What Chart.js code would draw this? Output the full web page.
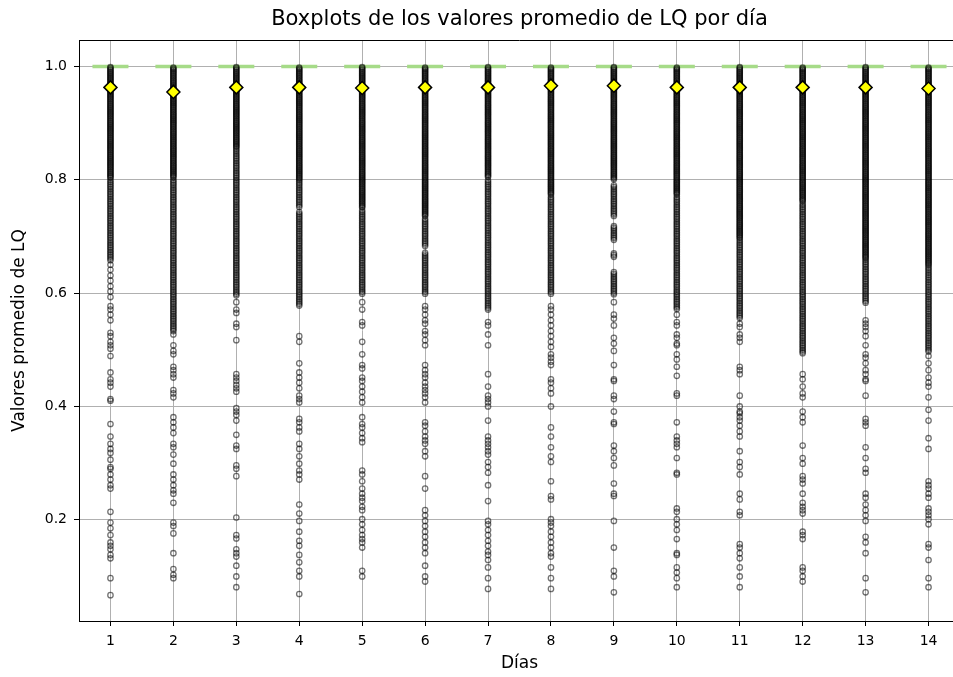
<!DOCTYPE html>
<html>
<head>
<meta charset="utf-8">
<script src="https://cdn.jsdelivr.net/npm/chart.js@4"></script>
<style>
  html, body { margin: 0; padding: 0; background: #fff; overflow: hidden; }
  #wrap { width: 953px; height: 677px; overflow: hidden; }
</style>
</head>
<body>
<div id="wrap"><canvas id="boxChart" width="962" height="677"></canvas></div>
<script>
const days = [1, 2, 3, 4, 5, 6, 7, 8, 9, 10, 11, 12, 13, 14];
const medians = [1, 1, 1, 1, 1, 1, 1, 1, 1, 1, 1, 1, 1, 1];
const means = [0.963, 0.955, 0.963, 0.963, 0.962, 0.963, 0.963, 0.966, 0.966, 0.963, 0.963, 0.963, 0.963, 0.961];
const yTicks = [0.2, 0.4, 0.6, 0.8, 1.0];

// outliers, one list per day (the top band is solid, so it is packed tight)
const lqDay1 = [
  0.999,0.997,0.995,0.993,0.991,0.989,0.987,0.985,0.983,0.981,
  0.979,0.977,0.975,0.973,0.971,0.969,0.967,0.965,0.963,0.961,
  0.959,0.957,0.955,0.953,0.951,0.949,0.947,0.945,0.943,0.941,
  0.939,0.937,0.935,0.933,0.931,0.929,0.927,0.925,0.923,0.921,
  0.919,0.917,0.915,0.913,0.911,0.909,0.907,0.905,0.903,0.901,
  0.899,0.897,0.895,0.893,0.891,0.889,0.887,0.885,0.883,0.881,
  0.879,0.877,0.875,0.873,0.871,0.869,0.867,0.865,0.863,0.861,
  0.859,0.857,0.855,0.853,0.851,0.849,0.847,0.845,0.843,0.841,
  0.839,0.837,0.835,0.833,0.831,0.829,0.827,0.825,0.823,0.821,
  0.819,0.817,0.815,0.813,0.811,0.809,0.807,0.805,0.803,
  0.799,0.796,0.793,0.790,0.787,0.784,0.781,0.778,0.775,0.772,
  0.769,0.766,0.763,0.760,0.757,0.754,0.751,0.748,0.745,0.742,
  0.739,0.736,0.733,0.730,0.727,0.724,0.721,0.718,0.715,0.712,
  0.709,0.706,0.703,0.700,0.697,0.694,0.691,0.688,0.685,0.682,
  0.679,0.676,0.673,0.670,0.667,0.664,0.661,0.658,
  0.650,0.641,0.631,0.622,0.612,0.603,0.593,0.577,0.571,0.562,0.552,0.530,0.524,0.514,0.508,0.502,0.489,0.460,0.448,0.442,0.435,0.413,0.410,0.369,0.347,0.334,0.325,0.318,0.306,0.293,0.290,0.280,0.271,0.261,0.255,0.214,0.195,0.185,0.173,0.160,0.154,0.148,0.138,0.132,0.097,0.067];
const lqDay2 = [
  0.998,0.996,0.994,0.992,0.990,0.988,0.986,0.984,0.982,0.980,
  0.978,0.976,0.974,0.972,0.970,0.968,0.966,0.964,0.962,0.960,
  0.958,0.956,0.954,0.952,0.950,0.948,0.946,0.944,0.942,0.940,
  0.938,0.936,0.934,0.932,0.930,0.928,0.926,0.924,0.922,0.920,
  0.918,0.916,0.914,0.912,0.910,0.908,0.906,0.904,0.902,0.900,
  0.898,0.896,0.894,0.892,0.890,0.888,0.886,0.884,0.882,0.880,
  0.878,0.876,0.874,0.872,0.870,0.868,0.866,0.864,0.862,0.860,
  0.858,0.856,0.854,0.852,0.850,0.848,0.846,0.844,0.842,0.840,
  0.838,0.836,0.834,0.832,0.830,0.828,0.826,0.824,0.822,0.820,
  0.818,0.816,0.814,0.812,0.810,0.808,0.806,0.804,
  0.800,0.797,0.794,0.791,0.788,0.785,0.782,0.779,0.776,0.773,
  0.770,0.767,0.764,0.761,0.758,0.755,0.752,0.749,0.746,0.743,
  0.740,0.737,0.734,0.731,0.728,0.725,0.722,0.719,0.716,0.713,
  0.710,0.707,0.704,0.701,0.698,0.695,0.692,0.689,0.686,0.683,
  0.680,0.677,0.674,0.671,0.668,0.665,0.662,0.659,0.656,0.653,
  0.650,0.647,0.644,0.641,0.638,0.635,0.632,0.629,0.626,0.623,
  0.620,0.617,0.614,0.611,0.608,0.605,0.602,0.599,0.596,0.593,
  0.590,0.587,0.584,0.581,0.578,0.575,0.572,0.569,0.566,0.563,
  0.560,0.557,0.554,0.551,0.548,0.545,0.542,0.539,0.536,0.533,
  0.527,0.508,0.498,0.492,0.470,0.464,0.457,0.451,0.429,0.423,0.416,0.381,0.372,0.363,0.353,0.334,0.328,0.315,0.299,0.280,0.271,0.261,0.252,0.246,0.230,0.195,0.189,0.176,0.141,0.113,0.103,0.097];
const lqDay3 = [
  0.999,0.997,0.995,0.993,0.991,0.989,0.987,0.985,0.983,0.981,
  0.979,0.977,0.975,0.973,0.971,0.969,0.967,0.965,0.963,0.961,
  0.959,0.957,0.955,0.953,0.951,0.949,0.947,0.945,0.943,0.941,
  0.939,0.937,0.935,0.933,0.931,0.929,0.927,0.925,0.923,0.921,
  0.919,0.917,0.915,0.913,0.911,0.909,0.907,0.905,0.903,0.901,
  0.899,0.897,0.895,0.893,0.891,0.889,0.887,0.885,0.883,0.881,
  0.879,0.877,0.875,0.873,0.871,0.869,0.867,0.865,0.863,0.861,0.859,
  0.857,0.854,0.851,0.848,0.845,0.842,0.839,0.836,0.833,0.830,
  0.827,0.824,0.821,0.818,0.815,0.812,0.809,0.806,0.803,
  0.800,0.797,0.794,0.791,0.788,0.785,0.782,0.779,0.776,0.773,
  0.770,0.767,0.764,0.761,0.758,0.755,0.752,0.749,0.746,0.743,
  0.740,0.737,0.734,0.731,0.728,0.725,0.722,0.719,0.716,0.713,
  0.710,0.707,0.704,0.701,0.698,0.695,0.692,0.689,0.686,0.683,
  0.680,0.677,0.674,0.671,0.668,0.665,0.662,0.659,0.656,0.653,
  0.650,0.647,0.644,0.641,0.638,0.635,0.632,0.629,0.626,0.623,
  0.620,0.617,0.614,0.611,0.608,0.605,0.602,0.599,0.596,
  0.584,0.571,0.565,0.546,0.540,0.517,0.457,0.451,0.445,0.438,0.432,0.426,0.397,0.391,0.385,0.375,0.350,0.331,0.325,0.296,0.290,0.277,0.204,0.173,0.167,0.148,0.141,0.135,0.119,0.100,0.081];
const lqDay4 = [
  0.998,0.996,0.994,0.992,0.990,0.988,0.986,0.984,0.982,0.980,
  0.978,0.976,0.974,0.972,0.970,0.968,0.966,0.964,0.962,0.960,
  0.958,0.956,0.954,0.952,0.950,0.948,0.946,0.944,0.942,0.940,
  0.938,0.936,0.934,0.932,0.930,0.928,0.926,0.924,0.922,0.920,
  0.918,0.916,0.914,0.912,0.910,0.908,0.906,0.904,0.902,0.900,
  0.898,0.896,0.894,0.892,0.890,0.888,0.886,0.884,0.882,0.880,
  0.878,0.876,0.874,0.872,0.870,0.868,0.866,0.864,0.862,0.860,
  0.858,0.856,0.854,0.852,0.850,0.848,0.846,0.844,0.842,0.840,
  0.838,0.836,0.834,0.832,0.830,0.828,0.826,0.824,0.822,0.820,
  0.818,0.816,0.814,0.812,0.810,0.808,0.806,0.804,0.802,0.800,
  0.797,0.794,0.791,0.788,0.785,0.782,0.779,0.776,0.773,
  0.770,0.767,0.764,0.761,0.758,0.755,0.752,0.743,
  0.740,0.737,0.734,0.731,0.728,0.725,0.722,0.719,0.716,0.713,
  0.710,0.707,0.704,0.701,0.698,0.695,0.692,0.689,0.686,0.683,
  0.680,0.677,0.674,0.671,0.668,0.665,0.662,0.659,0.656,0.653,
  0.650,0.647,0.644,0.641,0.638,0.635,0.632,0.629,0.626,0.623,
  0.620,0.617,0.614,0.611,0.608,0.605,0.602,0.599,0.596,0.593,
  0.590,0.587,0.584,0.581,0.578,
  0.524,0.514,0.476,0.460,0.451,0.442,0.432,0.419,0.413,0.407,0.378,0.372,0.363,0.356,0.334,0.325,0.312,0.299,0.287,0.280,0.271,0.227,0.211,0.198,0.179,0.163,0.154,0.138,0.125,0.110,0.100,0.069];
const lqDay5 = [
  0.999,0.997,0.995,0.993,0.991,0.989,0.987,0.985,0.983,0.981,
  0.979,0.977,0.975,0.973,0.971,0.969,0.967,0.965,0.963,0.961,
  0.959,0.957,0.955,0.953,0.951,0.949,0.947,0.945,0.943,0.941,
  0.939,0.937,0.935,0.933,0.931,0.929,0.927,0.925,0.923,0.921,
  0.919,0.917,0.915,0.913,0.911,0.909,0.907,0.905,0.903,0.901,
  0.899,0.897,0.895,0.893,0.891,0.889,0.887,0.885,0.883,0.881,
  0.879,0.877,0.875,0.873,0.871,0.869,0.867,0.865,0.863,0.861,
  0.859,0.857,0.855,0.853,0.851,0.849,0.847,0.845,0.843,0.841,
  0.839,0.837,0.835,0.833,0.831,0.829,0.827,0.825,0.823,0.821,
  0.819,0.817,0.815,0.813,0.811,0.809,0.807,0.805,0.803,0.801,
  0.799,0.797,0.795,0.793,0.791,0.789,0.787,0.785,0.783,0.781,
  0.779,0.777,0.775,0.773,0.771,0.769,0.767,0.765,0.763,0.761,
  0.759,0.757,0.755,0.753,0.751,
  0.746,0.743,0.740,0.737,0.734,0.731,0.728,0.725,0.722,0.719,
  0.716,0.713,0.710,0.707,0.704,0.701,0.698,0.695,0.692,0.689,
  0.686,0.683,0.680,0.677,0.674,0.671,0.668,0.665,0.662,0.659,
  0.656,0.653,0.650,0.647,0.644,0.641,0.638,0.635,0.632,0.629,
  0.626,0.623,0.620,0.617,0.614,0.611,0.608,0.605,0.602,0.599,
  0.584,0.571,0.549,0.543,0.514,0.492,0.473,0.467,0.451,0.445,0.435,0.426,0.416,0.407,0.381,0.369,0.363,0.353,0.344,0.337,0.287,0.280,0.268,0.255,0.246,0.239,0.233,0.223,0.217,0.201,0.192,0.182,0.173,0.166,0.160,0.151,0.110,0.100];
const lqDay6 = [
  0.998,0.996,0.994,0.992,0.990,0.988,0.986,0.984,0.982,0.980,
  0.978,0.976,0.974,0.972,0.970,0.968,0.966,0.964,0.962,0.960,
  0.958,0.956,0.954,0.952,0.950,0.948,0.946,0.944,0.942,0.940,
  0.938,0.936,0.934,0.932,0.930,0.928,0.926,0.924,0.922,0.920,
  0.918,0.916,0.914,0.912,0.910,0.908,0.906,0.904,0.902,0.900,
  0.898,0.896,0.894,0.892,0.890,0.888,0.886,0.884,0.882,0.880,
  0.878,0.876,0.874,0.872,0.870,0.868,0.866,0.864,0.862,0.860,
  0.858,0.856,0.854,0.852,0.850,0.848,0.846,0.844,0.842,0.840,
  0.838,0.836,0.834,0.832,0.830,0.828,0.826,0.824,0.822,0.820,
  0.818,0.816,0.814,0.812,0.810,0.808,0.806,0.804,0.802,0.800,
  0.798,0.796,0.794,0.792,0.790,0.788,0.786,0.784,0.782,0.780,
  0.778,0.776,0.774,0.772,0.770,0.768,0.766,0.764,0.762,0.760,
  0.758,0.756,0.754,0.752,0.750,0.748,0.746,0.744,0.742,0.740,0.738,0.736,
  0.731,0.728,0.725,0.722,0.719,0.716,0.713,
  0.710,0.707,0.704,0.701,0.698,0.695,0.692,0.689,0.686,0.683,
  0.671,0.668,0.665,0.662,0.659,0.656,0.653,
  0.650,0.647,0.644,0.641,0.638,0.635,0.632,0.629,0.626,0.623,
  0.620,0.617,0.614,0.611,0.608,0.605,0.602,0.599,
  0.577,0.571,0.562,0.552,0.546,0.533,0.527,0.517,0.508,0.473,0.464,0.457,0.451,0.442,0.435,0.429,0.423,0.416,0.407,0.372,0.366,0.356,0.347,0.340,0.334,0.321,0.312,0.277,0.255,0.217,0.208,0.198,0.189,0.179,0.170,0.160,0.151,0.141,0.119,0.100,0.091];
const lqDay7 = [
  0.999,0.997,0.995,0.993,0.991,0.989,0.987,0.985,0.983,0.981,
  0.979,0.977,0.975,0.973,0.971,0.969,0.967,0.965,0.963,0.961,
  0.959,0.957,0.955,0.953,0.951,0.949,0.947,0.945,0.943,0.941,
  0.939,0.937,0.935,0.933,0.931,0.929,0.927,0.925,0.923,0.921,
  0.919,0.917,0.915,0.913,0.911,0.909,0.907,0.905,0.903,0.901,
  0.899,0.897,0.895,0.893,0.891,0.889,0.887,0.885,0.883,0.881,
  0.879,0.877,0.875,0.873,0.871,0.869,0.867,0.865,0.863,0.861,
  0.859,0.857,0.855,0.853,0.851,0.849,0.847,0.845,0.843,0.841,
  0.839,0.837,0.835,0.833,0.831,0.829,0.827,0.825,0.823,0.821,
  0.819,0.817,0.815,0.813,0.811,0.809,0.807,0.805,
  0.799,0.796,0.793,0.790,0.787,0.784,0.781,0.778,0.775,0.772,
  0.769,0.766,0.763,0.760,0.757,0.754,0.751,0.748,0.745,0.742,
  0.739,0.736,0.733,0.730,0.727,0.724,0.721,0.718,0.715,0.712,
  0.709,0.706,0.703,0.700,0.697,0.694,0.691,0.688,0.685,0.682,
  0.679,0.676,0.673,0.670,0.667,0.664,0.661,0.658,0.655,0.652,
  0.649,0.646,0.643,0.640,0.637,0.634,0.631,0.628,0.625,0.622,
  0.619,0.616,0.613,0.610,0.607,0.604,0.601,0.598,0.595,0.592,
  0.589,0.586,0.583,0.580,0.577,0.574,0.571,
  0.549,0.543,0.527,0.508,0.457,0.435,0.419,0.413,0.407,0.400,0.375,0.347,0.340,0.334,0.328,0.321,0.315,0.302,0.293,0.283,0.261,0.233,0.198,0.192,0.182,0.173,0.163,0.154,0.144,0.138,0.129,0.116,0.097,0.078];
const lqDay8 = [
  0.998,0.996,0.994,0.992,0.990,0.988,0.986,0.984,0.982,0.980,
  0.978,0.976,0.974,0.972,0.970,0.968,0.966,0.964,0.962,0.960,
  0.958,0.956,0.954,0.952,0.950,0.948,0.946,0.944,0.942,0.940,
  0.938,0.936,0.934,0.932,0.930,0.928,0.926,0.924,0.922,0.920,
  0.918,0.916,0.914,0.912,0.910,0.908,0.906,0.904,0.902,0.900,
  0.898,0.896,0.894,0.892,0.890,0.888,0.886,0.884,0.882,0.880,
  0.878,0.876,0.874,0.872,0.870,0.868,0.866,0.864,0.862,0.860,
  0.858,0.856,0.854,0.852,0.850,0.848,0.846,0.844,0.842,0.840,
  0.838,0.836,0.834,0.832,0.830,0.828,0.826,0.824,0.822,0.820,
  0.818,0.816,0.814,0.812,0.810,0.808,0.806,0.804,0.802,0.800,
  0.798,0.796,0.794,0.792,0.790,0.788,0.786,0.784,0.782,0.780,
  0.778,0.776,0.774,
  0.770,0.767,0.764,0.761,0.758,0.755,0.752,0.749,0.746,0.743,
  0.740,0.737,0.734,0.731,0.728,0.725,0.722,0.719,0.716,0.713,
  0.710,0.707,0.704,0.701,0.698,0.695,0.692,0.689,0.686,0.683,
  0.680,0.677,0.674,0.671,0.668,0.665,0.662,0.659,0.656,0.653,
  0.650,0.647,0.644,0.641,0.638,0.635,0.632,0.629,0.626,0.623,
  0.620,0.617,0.614,0.611,0.608,0.605,0.602,0.599,
  0.577,0.571,0.562,0.552,0.543,0.533,0.524,0.514,0.505,0.492,0.486,0.479,0.473,0.448,0.442,0.432,0.423,0.400,0.363,0.347,0.328,0.312,0.302,0.268,0.242,0.236,0.201,0.195,0.189,0.179,0.170,0.160,0.151,0.141,0.135,0.116,0.097,0.078];
const lqDay9 = [
  0.999,0.997,0.995,0.993,0.991,0.989,0.987,0.985,0.983,0.981,
  0.979,0.977,0.975,0.973,0.971,0.969,0.967,0.965,0.963,0.961,
  0.959,0.957,0.955,0.953,0.951,0.949,0.947,0.945,0.943,0.941,
  0.939,0.937,0.935,0.933,0.931,0.929,0.927,0.925,0.923,0.921,
  0.919,0.917,0.915,0.913,0.911,0.909,0.907,0.905,0.903,0.901,
  0.899,0.897,0.895,0.893,0.891,0.889,0.887,0.885,0.883,0.881,
  0.879,0.877,0.875,0.873,0.871,0.869,0.867,0.865,0.863,0.861,
  0.859,0.857,0.855,0.853,0.851,0.849,0.847,0.845,0.843,0.841,
  0.839,0.837,0.835,0.833,0.831,0.829,0.827,0.825,0.823,0.821,
  0.819,0.817,0.815,0.813,0.811,0.809,0.807,0.805,0.803,0.801,
  0.790,0.787,0.784,0.781,0.778,0.775,0.772,0.769,0.766,0.763,
  0.760,0.757,0.754,0.751,0.748,0.745,0.742,0.739,0.736,
  0.718,0.715,0.712,0.709,0.706,0.703,0.700,0.697,0.694,
  0.670,0.667,0.664,
  0.637,0.634,0.631,0.628,0.625,0.622,0.619,0.616,0.613,0.610,0.607,0.604,0.601,0.598,
  0.584,0.562,0.555,0.543,0.521,0.511,0.498,0.473,0.448,0.445,0.419,0.413,0.391,0.372,0.369,0.331,0.321,0.309,0.296,0.264,0.246,0.242,0.198,0.151,0.110,0.100,0.072];
const lqDay10 = [
  0.998,0.996,0.994,0.992,0.990,0.988,0.986,0.984,0.982,0.980,
  0.978,0.976,0.974,0.972,0.970,0.968,0.966,0.964,0.962,0.960,
  0.958,0.956,0.954,0.952,0.950,0.948,0.946,0.944,0.942,0.940,
  0.938,0.936,0.934,0.932,0.930,0.928,0.926,0.924,0.922,0.920,
  0.918,0.916,0.914,0.912,0.910,0.908,0.906,0.904,0.902,0.900,
  0.898,0.896,0.894,0.892,0.890,0.888,0.886,0.884,0.882,0.880,
  0.878,0.876,0.874,0.872,0.870,0.868,0.866,0.864,0.862,0.860,
  0.858,0.856,0.854,0.852,0.850,0.848,0.846,0.844,0.842,0.840,
  0.838,0.836,0.834,0.832,0.830,0.828,0.826,0.824,0.822,0.820,
  0.818,0.816,0.814,0.812,0.810,0.808,0.806,0.804,0.802,0.800,
  0.798,0.796,0.794,0.792,0.790,0.788,0.786,0.784,0.782,0.780,
  0.778,0.776,0.774,
  0.770,0.767,0.764,0.761,0.758,0.755,0.752,0.749,0.746,0.743,
  0.740,0.737,0.734,0.731,0.728,0.725,0.722,0.719,0.716,0.713,
  0.710,0.707,0.704,0.701,0.698,0.695,0.692,0.689,0.686,0.683,
  0.680,0.677,0.674,0.671,0.668,0.665,0.662,0.659,0.656,0.653,
  0.650,0.647,0.644,0.641,0.638,0.635,0.632,0.629,0.626,0.623,
  0.620,0.617,0.614,0.611,0.608,0.605,0.602,0.599,0.596,0.593,
  0.590,0.587,0.584,0.581,0.578,0.575,0.572,
  0.562,0.549,0.543,0.527,0.521,0.511,0.508,0.492,0.483,0.470,0.454,0.423,0.419,0.372,0.347,0.340,0.334,0.328,0.309,0.283,0.280,0.220,0.214,0.201,0.192,0.182,0.166,0.141,0.138,0.116,0.107,0.097,0.081];
const lqDay11 = [
  0.999,0.997,0.995,0.993,0.991,0.989,0.987,0.985,0.983,0.981,
  0.979,0.977,0.975,0.973,0.971,0.969,0.967,0.965,0.963,0.961,
  0.959,0.957,0.955,0.953,0.951,0.949,0.947,0.945,0.943,0.941,
  0.939,0.937,0.935,0.933,0.931,0.929,0.927,0.925,0.923,0.921,
  0.919,0.917,0.915,0.913,0.911,0.909,0.907,0.905,0.903,0.901,
  0.899,0.897,0.895,0.893,0.891,0.889,0.887,0.885,0.883,0.881,
  0.879,0.877,0.875,0.873,0.871,0.869,0.867,0.865,0.863,0.861,
  0.859,0.857,0.855,0.853,0.851,0.849,0.847,0.845,0.843,0.841,
  0.839,0.837,0.835,0.833,0.831,0.829,0.827,0.825,0.823,0.821,
  0.819,0.817,0.815,0.813,0.811,0.809,0.807,0.805,0.803,0.801,
  0.799,0.797,0.795,0.793,0.791,0.789,0.787,0.785,0.783,0.781,
  0.779,0.777,0.775,0.773,0.771,0.769,0.767,0.765,0.763,0.761,
  0.759,0.757,0.755,0.753,0.751,0.749,0.747,0.745,0.743,0.741,
  0.739,0.737,0.735,0.733,0.731,0.729,0.727,0.725,0.723,0.721,
  0.719,0.717,0.715,0.713,0.711,0.709,0.707,0.705,0.703,0.701,0.699,
  0.697,0.694,0.691,0.688,0.685,0.682,
  0.679,0.676,0.673,0.670,0.667,0.664,0.661,0.658,0.655,0.652,
  0.649,0.646,0.643,0.640,0.637,0.634,0.631,0.628,0.625,0.622,
  0.619,0.616,0.613,0.610,0.607,0.604,0.601,0.598,0.595,0.592,
  0.589,0.586,0.583,0.580,0.577,0.574,0.571,0.568,0.565,0.562,
  0.559,0.556,
  0.546,0.540,0.527,0.521,0.514,0.470,0.464,0.457,0.419,0.400,0.391,0.388,0.381,0.375,0.366,0.356,0.347,0.321,0.302,0.293,0.280,0.246,0.236,0.214,0.208,0.157,0.151,0.141,0.132,0.116,0.100,0.081];
const lqDay12 = [
  0.998,0.996,0.994,0.992,0.990,0.988,0.986,0.984,0.982,0.980,
  0.978,0.976,0.974,0.972,0.970,0.968,0.966,0.964,0.962,0.960,
  0.958,0.956,0.954,0.952,0.950,0.948,0.946,0.944,0.942,0.940,
  0.938,0.936,0.934,0.932,0.930,0.928,0.926,0.924,0.922,0.920,
  0.918,0.916,0.914,0.912,0.910,0.908,0.906,0.904,0.902,0.900,
  0.898,0.896,0.894,0.892,0.890,0.888,0.886,0.884,0.882,0.880,
  0.878,0.876,0.874,0.872,0.870,0.868,0.866,0.864,0.862,0.860,
  0.858,0.856,0.854,0.852,0.850,0.848,0.846,0.844,0.842,0.840,
  0.838,0.836,0.834,0.832,0.830,0.828,0.826,0.824,0.822,0.820,
  0.818,0.816,0.814,0.812,0.810,0.808,0.806,0.804,0.802,0.800,
  0.798,0.796,0.794,0.792,0.790,0.788,0.786,0.784,0.782,0.780,
  0.778,0.776,0.774,0.772,0.770,0.768,0.766,0.764,0.762,
  0.758,0.755,0.752,0.749,0.746,0.743,
  0.740,0.737,0.734,0.731,0.728,0.725,0.722,0.719,0.716,0.713,
  0.710,0.707,0.704,0.701,0.698,0.695,0.692,0.689,0.686,0.683,
  0.680,0.677,0.674,0.671,0.668,0.665,0.662,0.659,0.656,0.653,
  0.650,0.647,0.644,0.641,0.638,0.635,0.632,0.629,0.626,0.623,
  0.620,0.617,0.614,0.611,0.608,0.605,0.602,0.599,0.596,0.593,
  0.590,0.587,0.584,0.581,0.578,0.575,0.572,0.569,0.566,0.563,
  0.560,0.557,0.554,0.551,0.548,0.545,0.542,0.539,0.536,0.533,
  0.530,0.527,0.524,0.521,0.518,0.515,0.512,0.509,0.506,0.503,
  0.500,0.497,0.494,
  0.457,0.448,0.435,0.423,0.416,0.391,0.381,0.372,0.331,0.309,0.299,0.277,0.271,0.264,0.246,0.230,0.223,0.217,0.211,0.179,0.173,0.166,0.116,0.110,0.100,0.091];
const lqDay13 = [
  0.999,0.997,0.995,0.993,0.991,0.989,0.987,0.985,0.983,0.981,
  0.979,0.977,0.975,0.973,0.971,0.969,0.967,0.965,0.963,0.961,
  0.959,0.957,0.955,0.953,0.951,0.949,0.947,0.945,0.943,0.941,
  0.939,0.937,0.935,0.933,0.931,0.929,0.927,0.925,0.923,0.921,
  0.919,0.917,0.915,0.913,0.911,0.909,0.907,0.905,0.903,0.901,
  0.899,0.897,0.895,0.893,0.891,0.889,0.887,0.885,0.883,0.881,
  0.879,0.877,0.875,0.873,0.871,0.869,0.867,0.865,0.863,0.861,
  0.859,0.857,0.855,0.853,0.851,0.849,0.847,0.845,0.843,0.841,
  0.839,0.837,0.835,0.833,0.831,0.829,0.827,0.825,0.823,0.821,
  0.819,0.817,0.815,0.813,0.811,0.809,0.807,0.805,0.803,0.801,
  0.799,0.797,0.795,0.793,0.791,0.789,0.787,0.785,0.783,0.781,
  0.779,0.777,0.775,0.773,0.771,0.769,0.767,0.765,0.763,0.761,
  0.759,0.757,0.755,0.753,0.751,0.749,0.747,0.745,0.743,0.741,
  0.739,0.737,0.735,0.733,0.731,0.729,0.727,0.725,0.723,0.721,
  0.719,0.717,0.715,0.713,0.711,0.709,0.707,0.705,0.703,0.701,
  0.699,0.697,0.695,0.693,0.691,0.689,0.687,0.685,0.683,0.681,
  0.679,0.677,0.675,0.673,0.671,0.669,0.667,0.665,0.663,0.661,
  0.658,0.655,0.652,0.649,0.646,0.643,0.640,0.637,0.634,0.631,
  0.628,0.625,0.622,0.619,0.616,0.613,0.610,0.607,0.604,0.601,
  0.598,0.595,0.592,0.589,0.586,0.583,
  0.552,0.546,0.540,0.533,0.524,0.508,0.492,0.486,0.476,0.464,0.457,0.448,0.445,0.419,0.378,0.372,0.366,0.328,0.309,0.290,0.283,0.246,0.239,0.227,0.217,0.208,0.198,0.170,0.160,0.141,0.097,0.072];
const lqDay14 = [
  0.998,0.996,0.994,0.992,0.990,0.988,0.986,0.984,0.982,0.980,
  0.978,0.976,0.974,0.972,0.970,0.968,0.966,0.964,0.962,0.960,
  0.958,0.956,0.954,0.952,0.950,0.948,0.946,0.944,0.942,0.940,
  0.938,0.936,0.934,0.932,0.930,0.928,0.926,0.924,0.922,0.920,
  0.918,0.916,0.914,0.912,0.910,0.908,0.906,0.904,0.902,0.900,
  0.898,0.896,0.894,0.892,0.890,0.888,0.886,0.884,0.882,0.880,
  0.878,0.876,0.874,0.872,0.870,0.868,0.866,0.864,0.862,0.860,
  0.858,0.856,0.854,0.852,0.850,0.848,0.846,0.844,0.842,0.840,
  0.838,0.836,0.834,0.832,0.830,0.828,0.826,0.824,0.822,0.820,
  0.818,0.816,0.814,0.812,0.810,0.808,0.806,0.804,0.802,0.800,
  0.798,0.796,0.794,0.792,0.790,0.788,0.786,0.784,0.782,0.780,
  0.778,0.776,0.774,0.772,0.770,0.768,0.766,0.764,0.762,0.760,
  0.758,0.756,0.754,0.752,0.750,0.748,0.746,0.744,0.742,0.740,
  0.738,0.736,0.734,0.732,0.730,0.728,0.726,0.724,0.722,0.720,
  0.718,0.716,0.714,0.712,0.710,0.708,0.706,0.704,0.702,0.700,
  0.698,0.696,0.694,0.692,0.690,0.688,0.686,0.684,0.682,0.680,
  0.678,0.676,0.674,0.672,0.670,0.668,0.666,0.664,0.662,0.660,
  0.658,0.656,0.654,0.652,0.650,
  0.647,0.644,0.641,0.638,0.635,0.632,0.629,0.626,0.623,
  0.620,0.617,0.614,0.611,0.608,0.605,0.602,0.599,0.596,0.593,
  0.590,0.587,0.584,0.581,0.578,0.575,0.572,0.569,0.566,0.563,
  0.560,0.557,0.554,0.551,0.548,0.545,0.542,0.539,0.536,0.533,
  0.530,0.527,0.524,0.521,0.518,0.515,0.512,0.509,0.506,0.503,
  0.500,0.497,
  0.489,0.476,0.464,0.451,0.442,0.435,0.416,0.394,0.375,0.344,0.325,0.268,0.261,0.255,0.246,0.239,0.220,0.214,0.208,0.201,0.192,0.157,0.151,0.129,0.097,0.081];

const outliers = [lqDay1, lqDay2, lqDay3, lqDay4, lqDay5, lqDay6, lqDay7, lqDay8, lqDay9, lqDay10, lqDay11, lqDay12, lqDay13, lqDay14];

const fliers = [];
days.forEach((d, i) => outliers[i].forEach(v => fliers.push({ x: d, y: v })));

const tickFont = { family: 'DejaVu Sans', size: 14 };
const labelFont = { family: 'DejaVu Sans', size: 17 };

// matplotlib draws a top spine too
const topSpine = {
  id: 'topSpine',
  afterDatasetsDraw(chart) {
    const { ctx, chartArea } = chart;
    ctx.save();
    ctx.strokeStyle = '#000';
    ctx.lineWidth = 1;
    ctx.beginPath();
    ctx.moveTo(chartArea.left, chartArea.top + 0.5);
    ctx.lineTo(chartArea.right, chartArea.top + 0.5);
    ctx.stroke();
    ctx.restore();
  }
};

new Chart(document.getElementById('boxChart'), {
  type: 'scatter',
  data: {
    datasets: [
      {
        label: 'Media',
        data: days.map((d, i) => ({ x: d, y: means[i] })),
        pointStyle: 'rectRot',
        pointRadius: 6.5,
        pointBackgroundColor: '#ffff00',
        pointBorderColor: '#000',
        pointBorderWidth: 1.5,
        order: 0
      },
      {
        label: 'Atípicos',
        data: fliers,
        pointStyle: 'circle',
        pointRadius: 2.7,
        pointBackgroundColor: 'rgba(0,0,0,0)',
        pointBorderColor: 'rgba(0,0,0,0.55)',
        pointBorderWidth: 1.3,
        order: 1
      },
      {
        label: 'Mediana',
        data: days.map((d, i) => ({ x: d, y: medians[i] })),
        pointStyle: 'line',
        pointRadius: 18,
        pointBorderColor: '#a6db88',
        pointBorderWidth: 3.5,
        order: 2
      }
    ]
  },
  options: {
    responsive: false,
    animation: false,
    events: [],
    layout: { autoPadding: false, padding: { left: 0, right: 2, top: 0, bottom: 0 } },
    plugins: {
      legend: { display: false },
      tooltip: { enabled: false },
      title: {
        display: true,
        text: 'Boxplots de los valores promedio de LQ por día',
        color: '#000',
        fullSize: false,
        font: { family: 'DejaVu Sans', size: 21, weight: 'normal' },
        padding: { top: 7.4, bottom: 7.4 }
      }
    },
    scales: {
      x: {
        type: 'linear',
        min: 0.5,
        max: 14.5,
        afterBuildTicks: s => { s.ticks = days.map(v => ({ value: v })); },
        afterFit: s => { s.height = 56; },
        ticks: { color: '#000', font: tickFont, padding: 7, maxRotation: 0, autoSkip: false },
        grid: { color: '#b0b0b0', lineWidth: 1, tickColor: '#000', tickLength: 5 },
        border: { color: '#000', width: 1 },
        title: { display: true, text: 'Días', color: '#000', font: labelFont, padding: { top: 2, bottom: 2.8 } }
      },
      y: {
        type: 'linear',
        min: 0.0214,
        max: 1.0466,
        afterBuildTicks: s => { s.ticks = yTicks.map(v => ({ value: v })); },
        afterFit: s => { s.width = 79; },
        ticks: { color: '#000', font: tickFont, padding: 7, callback: v => v.toFixed(1) },
        grid: { color: '#b0b0b0', lineWidth: 1, tickColor: '#000', tickLength: 5 },
        border: { color: '#000', width: 1 },
        title: { display: true, text: 'Valores promedio de LQ', color: '#000', font: labelFont, padding: { top: 9.8, bottom: 2 } }
      }
    }
  },
  plugins: [topSpine]
});
</script>
</body>
</html>
